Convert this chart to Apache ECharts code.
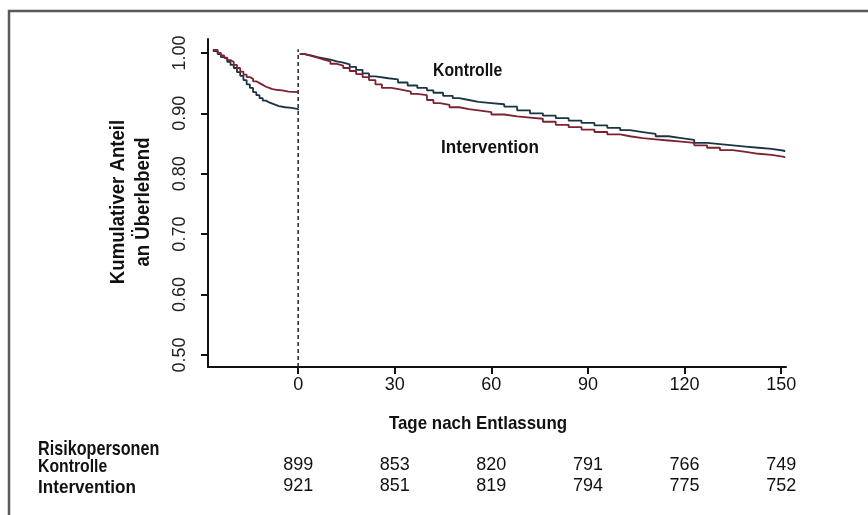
<!DOCTYPE html>
<html>
<head>
<meta charset="utf-8">
<script src="https://cdn.jsdelivr.net/npm/echarts@6/dist/echarts.min.js"></script>
<style>
  html, body { margin: 0; padding: 0; background: #fff; }
  #chart { width: 868px; height: 515px; }
</style>
</head>
<body>
<div id="chart"></div>
<script>
// Kaplan-Meier-Kurven, vor und nach Entlassung (Tag, Anteil)
var kontrollePre = [
    [-26.5, 1.003], [-25, 0.998], [-24, 0.993], [-23, 0.990], [-22, 0.985], [-21, 0.980],
    [-20, 0.975], [-19, 0.968], [-18, 0.962], [-17, 0.955], [-16, 0.948], [-15, 0.942],
    [-14, 0.935], [-13, 0.930], [-12, 0.925], [-11, 0.921], [-10, 0.918], [-9, 0.916],
    [-8, 0.914], [-7, 0.912], [-6, 0.910], [-4, 0.909], [-2, 0.907], [0, 0.905]
];
var interventionPre = [
    [-26.5, 1.005], [-25, 1.000], [-24, 0.996], [-23, 0.992], [-22, 0.988], [-21, 0.985],
    [-20, 0.980], [-19, 0.975], [-18, 0.969], [-17, 0.964], [-16, 0.960], [-15, 0.957],
    [-14, 0.953], [-13, 0.950], [-12, 0.947], [-11, 0.944], [-10, 0.942], [-9, 0.940],
    [-8, 0.939], [-7, 0.938], [-5, 0.936], [-3, 0.935], [0, 0.934]
];
var kontrollePost = [
    [0.5, 0.998], [2, 0.996], [4, 0.993], [6, 0.991], [8, 0.989], [10, 0.986], [12, 0.984],
    [14, 0.981], [16, 0.977], [18, 0.972], [20, 0.966], [22, 0.961], [24, 0.958], [28, 0.956],
    [31, 0.951], [34, 0.946], [37, 0.942], [40, 0.938], [42, 0.934], [45, 0.929], [48, 0.925],
    [50, 0.922], [53, 0.919], [56, 0.917], [60, 0.915], [64, 0.911], [68, 0.905], [72, 0.900],
    [76, 0.896], [80, 0.892], [84, 0.888], [88, 0.884], [92, 0.880], [96, 0.876], [100, 0.872],
    [103, 0.869], [107, 0.866], [111, 0.862], [115, 0.859], [119, 0.856], [123, 0.851],
    [127, 0.849], [131, 0.847], [135, 0.845], [139, 0.843], [143, 0.841], [147, 0.838], [151, 0.836]
];
var interventionPost = [
    [0.5, 0.998], [2, 0.995], [4, 0.992], [6, 0.989], [8, 0.986], [10, 0.982], [12, 0.979],
    [14, 0.975], [16, 0.970], [18, 0.965], [20, 0.960], [22, 0.955], [24, 0.948], [26, 0.942],
    [29, 0.939], [32, 0.936], [35, 0.932], [37, 0.930], [40, 0.922], [42, 0.917], [44, 0.914],
    [47, 0.910], [50, 0.907], [53, 0.905], [56, 0.902], [60, 0.898], [64, 0.895], [68, 0.893],
    [72, 0.891], [76, 0.886], [80, 0.881], [84, 0.877], [88, 0.873], [92, 0.869], [96, 0.865],
    [100, 0.862], [103, 0.859], [107, 0.857], [111, 0.855], [115, 0.853], [119, 0.851],
    [123, 0.847], [127, 0.843], [131, 0.839], [135, 0.836], [139, 0.833], [143, 0.831],
    [147, 0.828], [151, 0.826]
];

var xTicks = [0, 30, 60, 90, 120, 150];
var yTicks = [0.5, 0.6, 0.7, 0.8, 0.9, 1.0];
var riskKontrolle = [899, 853, 820, 791, 766, 749];
var riskIntervention = [921, 851, 819, 794, 775, 752];
var entlassungLine = [[0, 0.48], [0, 1.006]];

var colorKontrolle = '#1b3444';
var colorIntervention = '#7d2232';
var sans = "'Liberation Sans', Arial, sans-serif";

var chart = echarts.init(document.getElementById('chart'));

function riskAxis(values, offset) {
    return {
        type: 'value',
        min: -28,
        max: 151.5,
        position: 'bottom',
        offset: offset,
        axisLine: { show: false },
        axisTick: { show: false },
        splitLine: { show: false },
        axisLabel: {
            customValues: xTicks,
            margin: 0,
            fontFamily: sans,
            fontSize: 18,
            color: '#111',
            formatter: function (v) {
                var i = xTicks.indexOf(v);
                return i === -1 ? '' : String(values[i]);
            }
        }
    };
}

function curve(name, data, color) {
    return {
        type: 'line',
        name: name,
        data: data,
        step: 'end',
        showSymbol: false,
        symbol: 'none',
        silent: true,
        animation: false,
        lineStyle: { color: color, width: 1.8 }
    };
}

// narrow bold text: Liberation Sans squeezed horizontally
function label(text, x, y, size, squeeze, extra) {
    var el = {
        type: 'text',
        x: x,
        y: y,
        scaleX: squeeze,
        style: {
            text: text,
            fontFamily: sans,
            fontWeight: 'bold',
            fontSize: size,
            fill: '#111',
            verticalAlign: 'middle'
        }
    };
    if (extra) {
        for (var k in extra) el.style[k] = extra[k];
    }
    return el;
}

var yName = label('Kumulativer Anteil\nan Überlebend', 131, 202, 20, 0.93, { align: 'center', lineHeight: 25 });
yName.rotation = Math.PI / 2;

var option = {
    backgroundColor: '#fff',
    animation: false,
    grid: { left: 208, top: 39, right: 82, bottom: 148 },
    xAxis: [{
        type: 'value',
        min: -28,
        max: 151.5,
        axisLine: { onZero: false, lineStyle: { color: '#111', width: 2 } },
        axisTick: { customValues: xTicks, length: 7, lineStyle: { color: '#111', width: 2 } },
        splitLine: { show: false },
        axisLabel: {
            customValues: xTicks,
            margin: 9,
            fontFamily: sans,
            fontSize: 18,
            color: '#111'
        }
    }, riskAxis(riskKontrolle, 89), riskAxis(riskIntervention, 110)],
    yAxis: {
        type: 'value',
        min: 0.48,
        max: 1.023,
        axisLine: { show: true, onZero: false, lineStyle: { color: '#111', width: 2 } },
        axisTick: { show: true, customValues: yTicks, length: 7, lineStyle: { color: '#111', width: 2 } },
        splitLine: { show: false },
        axisLabel: {
            customValues: yTicks,
            rotate: 90,
            margin: 19,
            fontFamily: sans,
            fontSize: 18,
            color: '#222',
            formatter: function (v) { return v.toFixed(2); }
        }
    },
    series: [
        {
            type: 'line',
            data: entlassungLine,
            symbol: 'none',
            silent: true,
            lineStyle: { color: '#222', width: 1.5, type: [4, 3] }
        },
        curve('Kontrolle', kontrollePre, colorKontrolle),
        curve('Intervention', interventionPre, colorIntervention),
        curve('Kontrolle', kontrollePost, colorKontrolle),
        curve('Intervention', interventionPost, colorIntervention)
    ],
    graphic: [
        {
            type: 'rect',
            shape: { x: 9, y: 11, width: 1000, height: 1000 },
            style: { fill: 'none', stroke: '#5a5a5a', lineWidth: 2.5 },
            silent: true
        },
        yName,
        label('Kontrolle', 433, 71, 19, 0.83),
        label('Intervention', 441, 148, 19, 0.9),
        label('Tage nach Entlassung', 478, 424, 19, 0.89, { align: 'center' }),
        label('Risikopersonen', 38, 449, 21, 0.77),
        label('Kontrolle', 38, 467, 19, 0.83),
        label('Intervention', 38, 488, 19, 0.9)
    ]
};

chart.setOption(option);
</script>
</body>
</html>
